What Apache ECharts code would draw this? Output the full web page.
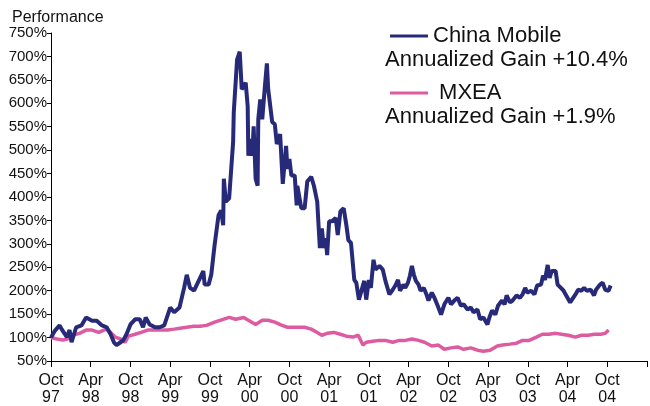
<!DOCTYPE html>
<html>
<head>
<meta charset="utf-8">
<script src="https://cdn.jsdelivr.net/npm/echarts@6/dist/echarts.min.js"></script>
<style>html,body{margin:0;padding:0;background:#fff}#c{width:650px;height:406px}</style>
</head>
<body>
<div id="c"></div>
<script>
// x values: months since October 1997
const tickLabels = ['Oct\n97','Apr\n98','Oct\n98','Apr\n99','Oct\n99','Apr\n00','Oct\n00','Apr\n01','Oct\n01','Apr\n02','Oct\n02','Apr\n03','Oct\n03','Apr\n04','Oct\n04'];

const cmMonths = [0,0.6,1.3,1.6,2.4,2.8,3.1,3.8,4.6,5.3,5.6,6.2,6.9,7.7,8.4,9.0,9.5,9.9,10.5,10.9,11.4,12.0,12.7,13.4,13.9,14.3,14.9,15.7,16.4,17.1,17.4,18.0,18.6,19.4,20.1,20.5,21.0,21.6,22.3,23.0,23.2,23.8,24.2,24.7,25.3,25.7,26.0,26.1,26.4,26.9,27.5,27.6,27.9,28.1,28.5,28.8,29.1,29.4,29.7,29.8,30.1,30.4,30.6,30.9,31.2,31.3,31.6,31.9,32.1,32.3,32.6,32.8,33.4,33.8,34.1,34.6,34.9,35.0,35.5,35.7,36.0,36.3,36.8,37.1,37.2,37.5,37.8,38.3,38.7,39.3,39.7,40.2,40.6,40.9,41.2,41.5,41.7,42.0,42.4,43.0,43.3,43.7,44.2,44.6,44.9,45.3,45.8,46.1,46.5,46.8,47.3,47.6,48.0,48.3,48.7,49.0,49.6,50.1,50.5,51.1,51.6,52.0,52.4,52.7,53.2,53.5,53.9,54.2,54.5,54.8,55.1,55.5,55.8,56.3,56.7,57.0,57.5,57.9,58.5,58.9,59.4,60.0,60.4,60.9,61.4,61.9,62.3,62.9,63.4,63.8,64.4,64.8,65.3,65.9,66.2,66.6,67.1,67.5,68.1,68.5,68.8,69.3,69.7,70.3,70.8,71.2,71.6,71.9,72.5,73.0,73.4,74.0,74.3,74.6,75.0,75.3,75.6,76.2,76.5,77.0,77.4,77.8,78.4,78.7,79.2,79.6,80.1,80.5,80.9,81.5,82.0,82.3,82.9,83.3,83.7,84.2,84.5];
const cmValues = [100,115,126,118,101,116,90,122,126,143,146,136,136,126,122,107,90,84,90,94,107,128,139,139,122,143,128,122,122,126,122,164,154,164,206,234,206,200,221,242,213,213,234,297,361,371,340,439,390,397,517,581,581,693,710,630,636,644,594,488,524,488,551,439,424,566,608,566,566,636,685,630,560,555,513,534,530,428,509,460,481,446,446,382,424,424,376,376,433,443,424,390,291,333,291,312,276,348,348,355,319,369,376,340,308,302,223,217,181,181,221,181,223,206,266,245,253,245,221,192,202,211,223,200,213,206,217,232,253,234,221,213,200,206,192,179,196,185,164,149,171,185,171,179,185,168,171,160,164,154,160,139,143,128,143,158,149,168,179,171,190,175,179,190,185,192,206,196,200,192,211,213,232,223,255,227,242,242,213,206,200,190,175,171,192,202,200,206,200,202,190,202,213,217,202,200,211];

const mxMonths = [0,0.9,1.8,2.5,3.2,4.3,5.3,6.2,7.2,8.0,8.4,9.0,9.7,10.5,11.2,11.7,12.7,13.6,14.6,15.7,16.5,17.6,18.6,19.5,20.5,21.6,22.5,23.5,24.7,26.0,26.9,27.9,29.1,29.8,30.9,31.9,32.8,33.8,34.9,35.7,36.8,38.3,39.3,40.2,40.9,41.7,42.7,43.7,44.6,45.6,46.4,47.1,47.6,48.6,49.6,50.5,51.6,52.6,53.5,54.5,55.5,56.4,57.5,58.5,59.4,60.4,61.4,62.3,63.4,64.4,65.3,66.3,67.4,68.2,69.3,70.3,71.2,72.2,73.3,74.2,75.2,76.2,77.1,78.1,79.2,80.1,81.1,82.1,83.0,83.7,84.2];
const mxValues = [100,97,95,97,105,109,116,116,111,116,118,111,101,97,90,103,107,111,116,116,116,116,118,120,122,124,124,126,133,139,143,139,143,137,128,137,137,133,126,122,122,122,118,111,105,109,111,107,103,101,105,84,90,92,94,94,90,94,94,97,94,90,82,84,75,78,80,75,78,73,71,73,82,84,86,88,94,94,101,107,107,109,107,105,101,105,105,107,107,109,116];

const yTicks = {min: 50, max: 750, step: 50};

const cmData = cmMonths.map((m, i) => [m, cmValues[i]]);
const mxData = mxMonths.map((m, i) => [m, mxValues[i]]);

const chart = echarts.init(document.getElementById('c'), null, {renderer: 'canvas'});
const font = 'Liberation Sans, Arial, Helvetica, sans-serif';
chart.setOption({
  animation: false,
  backgroundColor: '#fff',
  title: {
    text: 'Performance', left: 7, top: 5,
    textStyle: {fontFamily: font, fontSize: 16, fontWeight: 'normal', color: '#111'}
  },
  grid: {left: 51, right: -10, top: 33, bottom: 42},
  xAxis: {
    type: 'value', min: 0, max: 90, interval: 6,
    axisLine: {show: true, lineStyle: {color: '#000', width: 1}},
    axisTick: {show: true, length: 6, lineStyle: {color: '#000'}},
    splitLine: {show: false},
    axisLabel: {
      margin: 11, fontFamily: font, fontSize: 16, lineHeight: 17, color: '#111',
      formatter: v => tickLabels[Math.round(v / 6)] || ''
    }
  },
  yAxis: {
    type: 'value', min: yTicks.min, max: yTicks.max, interval: yTicks.step,
    axisLine: {show: true, lineStyle: {color: '#000', width: 1}},
    axisTick: {show: true, length: 4, lineStyle: {color: '#000'}},
    splitLine: {show: false},
    axisLabel: {margin: 4, fontFamily: font, fontSize: 15, color: '#111', formatter: v => v + '%'}
  },
  legend: [
    {data: ['China Mobile'], left: 385, top: 20, icon: 'rect', itemWidth: 38, itemHeight: 3,
     textStyle: {fontFamily: font, fontSize: 22, color: '#111'}},
    {data: ['MXEA'], left: 385, top: 77, icon: 'rect', itemWidth: 38, itemHeight: 3,
     formatter: n => ' ' + n,
     textStyle: {fontFamily: font, fontSize: 22, color: '#111'}}
  ],
  graphic: [
    {type: 'text', left: 385, top: 49, style: {text: 'Annualized Gain +10.4%', font: '22px ' + font, fill: '#111'}},
    {type: 'text', left: 385, top: 106, style: {text: 'Annualized Gain +1.9%', font: '22px ' + font, fill: '#111'}}
  ],
  series: [
    {name: 'MXEA', type: 'line', data: mxData, showSymbol: false, symbol: 'none',
     lineStyle: {color: '#DD5BA1', width: 3.5}, itemStyle: {color: '#DD5BA1'}, z: 2},
    {name: 'China Mobile', type: 'line', data: cmData, showSymbol: false, symbol: 'none',
     lineStyle: {color: '#272A78', width: 4}, itemStyle: {color: '#272A78'}, z: 3}
  ]
});
</script>
</body>
</html>
